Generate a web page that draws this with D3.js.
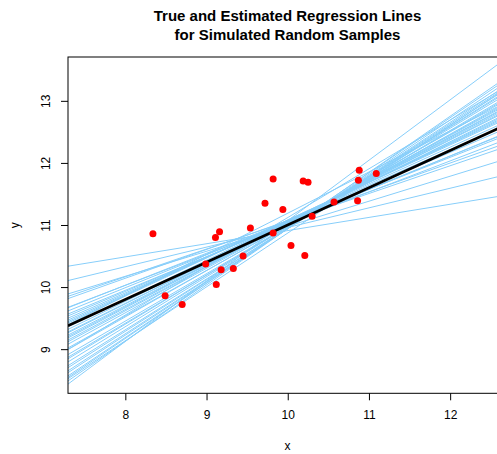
<!DOCTYPE html>
<html>
<head>
<meta charset="utf-8">
<script src="https://cdn.jsdelivr.net/npm/d3@7"></script>
<style>
  body { margin: 0; background: #fff; }
  text { font-family: "Liberation Sans", Arial, sans-serif; fill: #000; }
</style>
</head>
<body>
<div id="app"></div>
<script>
// sample points
const sampleX = [8.34, 8.49, 8.70, 8.99, 9.12, 9.11, 9.16, 9.18, 9.33, 9.45, 9.54, 9.72, 9.82,
  9.82, 9.94, 10.04, 10.19, 10.25, 10.21, 10.30, 10.57, 10.86, 10.87, 10.88, 11.09];
const sampleY = [10.86, 9.86, 9.72, 10.37, 10.04, 10.80, 10.89, 10.28, 10.30, 10.50, 10.95, 11.35, 11.74,
  10.87, 11.25, 10.67, 11.71, 11.69, 10.51, 11.14, 11.37, 11.39, 11.72, 11.88, 11.83];

// estimated regression lines (one per simulated sample)
const estIntercepts = [8.79, 7.80, 6.95, 6.59, 6.43, 6.02, 5.91, 5.62, 5.45, 5.29, 5.15, 5.03, 4.95, 4.78,
  4.65, 4.53, 4.45, 4.34, 4.25, 4.17, 4.07, 3.97, 3.85, 3.68, 3.56, 3.34, 3.21, 3.09, 2.93, 2.76,
  2.64, 2.48, 2.37, 2.18, 2.06, 1.88, 1.34, 2.20, 5.75, 4.55, 3.27];
const estSlopes = [0.212, 0.316, 0.403, 0.447, 0.464, 0.501, 0.515, 0.541, 0.560, 0.577, 0.592, 0.605,
  0.613, 0.628, 0.640, 0.651, 0.660, 0.670, 0.679, 0.687, 0.696, 0.706, 0.717, 0.732, 0.745, 0.764,
  0.776, 0.789, 0.804, 0.819, 0.831, 0.846, 0.857, 0.876, 0.889, 0.906, 0.973, 0.867, 0.530, 0.664, 0.785];

// true line
const trueIntercept = 5;
const trueSlope = 0.6;

const xTicks = [8, 9, 10, 11, 12];
const yTicks = [9, 10, 11, 12, 13];
const xDomain = [7.294, 12.7];
const yDomain = [8.289, 13.706];

const width = 497;
const height = 454;
const plot = { left: 68, top: 57, right: 507, bottom: 393.3 };

const svg = d3.select('#app').append('svg')
  .attr('width', width)
  .attr('height', height);

const x = d3.scaleLinear().domain(xDomain).range([plot.left, plot.right]);
const y = d3.scaleLinear().domain(yDomain).range([plot.bottom, plot.top]);

svg.append('defs').append('clipPath')
  .attr('id', 'clip')
  .append('rect')
  .attr('x', plot.left)
  .attr('y', plot.top)
  .attr('width', plot.right - plot.left)
  .attr('height', plot.bottom - plot.top);

const lines = svg.append('g').attr('clip-path', 'url(#clip)');

const lineData = estIntercepts.map((a, i) => ({ a, b: estSlopes[i] }));

lines.selectAll('line.est')
  .data(lineData)
  .enter().append('line')
  .attr('class', 'est')
  .attr('x1', x(xDomain[0]))
  .attr('x2', x(xDomain[1]))
  .attr('y1', d => y(d.a + d.b * xDomain[0]))
  .attr('y2', d => y(d.a + d.b * xDomain[1]))
  .attr('stroke', '#87cefa')
  .attr('stroke-width', 1);

lines.append('line')
  .attr('x1', x(xDomain[0]))
  .attr('x2', x(xDomain[1]))
  .attr('y1', y(trueIntercept + trueSlope * xDomain[0]))
  .attr('y2', y(trueIntercept + trueSlope * xDomain[1]))
  .attr('stroke', '#000')
  .attr('stroke-width', 2.6);

lines.selectAll('circle')
  .data(sampleX.map((v, i) => [v, sampleY[i]]))
  .enter().append('circle')
  .attr('cx', d => x(d[0]))
  .attr('cy', d => y(d[1]))
  .attr('r', 3.5)
  .attr('fill', '#ff0000');

// box
svg.append('rect')
  .attr('x', plot.left)
  .attr('y', plot.top)
  .attr('width', plot.right - plot.left)
  .attr('height', plot.bottom - plot.top)
  .attr('fill', 'none')
  .attr('stroke', '#000')
  .attr('stroke-width', 1);

// axes
const xAxis = svg.append('g')
  .attr('transform', `translate(0,${plot.bottom})`)
  .call(d3.axisBottom(x).tickValues(xTicks).tickSize(7).tickPadding(10).tickFormat(d3.format('d')));

const yAxis = svg.append('g')
  .attr('transform', `translate(${plot.left},0)`)
  .call(d3.axisLeft(y).tickValues(yTicks).tickSize(7).tickFormat(d3.format('d')));

[xAxis, yAxis].forEach(g => {
  g.select('.domain').remove();
  g.selectAll('.tick line').attr('stroke', '#000');
  g.selectAll('.tick text')
    .style('font-size', '12px')
    .style('font-family', '"Liberation Sans", Arial, sans-serif');
});

yAxis.selectAll('.tick text')
  .attr('x', null)
  .attr('dy', null)
  .attr('text-anchor', 'middle')
  .attr('transform', 'translate(-18,0) rotate(-90)');

// labels
svg.append('text')
  .attr('x', (plot.left + plot.right) / 2)
  .attr('y', 450)
  .attr('text-anchor', 'middle')
  .style('font-size', '12px')
  .text('x');

svg.append('text')
  .attr('transform', `translate(19,${(plot.top + plot.bottom) / 2}) rotate(-90)`)
  .attr('text-anchor', 'middle')
  .style('font-size', '12px')
  .text('y');

const title = ['True and Estimated Regression Lines', 'for Simulated Random Samples'];
svg.selectAll('text.title')
  .data(title)
  .enter().append('text')
  .attr('class', 'title')
  .attr('x', (plot.left + plot.right) / 2)
  .attr('y', (d, i) => 21 + i * 19)
  .attr('text-anchor', 'middle')
  .style('font-size', '15px')
  .style('font-weight', 'bold')
  .text(d => d);
</script>
</body>
</html>
